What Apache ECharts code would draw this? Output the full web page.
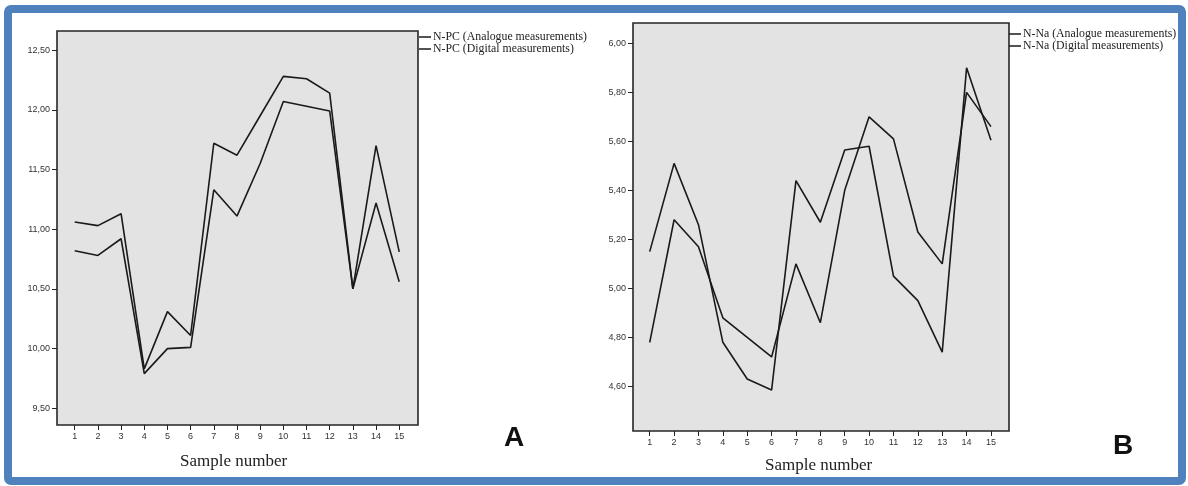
<!DOCTYPE html>
<html>
<head>
<meta charset="utf-8">
<script src="https://cdn.jsdelivr.net/npm/echarts@6/dist/echarts.min.js"></script>
<style>
  html, body { margin: 0; padding: 0; background: #ffffff; }
  #chart { width: 1188px; height: 486px; }
</style>
</head>
<body>
<div id="chart"></div>
<script>
// Sample numbers on the x axis
const sampleNumbers = [1, 2, 3, 4, 5, 6, 7, 8, 9, 10, 11, 12, 13, 14, 15];

// Panel A: N-PC
const npcAnalogue = [11.06, 11.03, 11.13, 9.83, 10.31, 10.11, 11.72, 11.62, 11.95, 12.28, 12.26, 12.14, 10.50, 11.70, 10.81];
const npcDigital  = [10.82, 10.78, 10.92, 9.79, 10.00, 10.01, 11.33, 11.11, 11.55, 12.07, 12.03, 11.99, 10.50, 11.22, 10.56];
const npcTicks = [9.5, 10.0, 10.5, 11.0, 11.5, 12.0, 12.5];

// Panel B: N-Na
const nnaAnalogue = [5.15, 5.51, 5.26, 4.78, 4.63, 4.585, 5.44, 5.27, 5.565, 5.58, 5.05, 4.95, 4.74, 5.90, 5.605];
const nnaDigital  = [4.78, 5.28, 5.17, 4.88, 4.80, 4.72, 5.10, 4.86, 5.40, 5.70, 5.61, 5.23, 5.10, 5.80, 5.66];
const nnaTicks = [4.6, 4.8, 5.0, 5.2, 5.4, 5.6, 5.8, 6.0];

const names = {
  npcA: 'N-PC (Analogue measurements)',
  npcD: 'N-PC (Digital measurements)',
  nnaA: 'N-Na (Analogue measurements)',
  nnaD: 'N-Na (Digital measurements)'
};

const pairs = vals => vals.map((v, i) => [sampleNumbers[i], v]);
const commaFmt = v => Number(v).toFixed(2).replace('.', ',');

const tickFont = { fontFamily: 'Liberation Sans, Arial, sans-serif', fontSize: 9, color: '#333' };

function xAxisFor(gridIndex, min, max) {
  return {
    type: 'value', gridIndex, min, max,
    axisLine: { show: false, onZero: false },
    splitLine: { show: false },
    axisTick: { show: true, length: 5, lineStyle: { color: '#222', width: 1 }, customValues: sampleNumbers },
    axisLabel: Object.assign({ margin: 7, customValues: sampleNumbers, formatter: v => String(v) }, tickFont)
  };
}
function yAxisFor(gridIndex, min, max, ticks) {
  return {
    type: 'value', gridIndex, min, max,
    axisLine: { show: false, onZero: false },
    splitLine: { show: false },
    axisTick: { show: true, length: 5, lineStyle: { color: '#222', width: 1 }, customValues: ticks },
    axisLabel: Object.assign({ margin: 7, customValues: ticks, formatter: commaFmt }, tickFont)
  };
}
function lineSeries(name, idx, vals) {
  return {
    name, type: 'line', xAxisIndex: idx, yAxisIndex: idx,
    data: pairs(vals), showSymbol: false, symbol: 'none', smooth: false,
    lineStyle: { color: '#1a1a1a', width: 1.6 }, itemStyle: { color: '#1a1a1a' },
    animation: false
  };
}

const gridStyle = { show: true, backgroundColor: '#e3e3e3', borderColor: '#262626', borderWidth: 1.6, containLabel: false };

const legendStyle = {
  orient: 'vertical', selectedMode: false, icon: 'rect', itemWidth: 12, itemHeight: 1.5, itemGap: 0,
  textStyle: { fontFamily: 'Liberation Serif, Times New Roman, serif', fontSize: 11.8, lineHeight: 11, height: 11, color: '#222', padding: [0, 0, 0, -3] },
  padding: 0
};

const option = {
  animation: false,
  backgroundColor: '#ffffff',
  grid: [
    Object.assign({ left: 57, top: 31, width: 361, height: 394 }, gridStyle),
    Object.assign({ left: 633, top: 23, width: 376, height: 408 }, gridStyle)
  ],
  xAxis: [xAxisFor(0, 0.235, 15.81), xAxisFor(1, 0.314, 15.74)],
  yAxis: [yAxisFor(0, 9.36, 12.66, npcTicks), yAxisFor(1, 4.418, 6.083, nnaTicks)],
  legend: [
    Object.assign({ left: 419, top: 31, data: [names.npcA, names.npcD] }, legendStyle),
    Object.assign({ left: 1009, top: 28, data: [names.nnaA, names.nnaD] }, legendStyle)
  ],
  series: [
    lineSeries(names.npcA, 0, npcAnalogue),
    lineSeries(names.npcD, 0, npcDigital),
    lineSeries(names.nnaA, 1, nnaAnalogue),
    lineSeries(names.nnaD, 1, nnaDigital)
  ],
  graphic: [
    { type: 'rect', silent: true, z: 100,
      shape: { x: 8, y: 9, width: 1174, height: 472, r: 3 },
      style: { fill: null, stroke: '#4f81bd', lineWidth: 8 } },
    { type: 'text', silent: true, left: 180, top: 453,
      style: { text: 'Sample number', font: '17px "Liberation Serif", serif', fill: '#222' } },
    { type: 'text', silent: true, left: 765, top: 457,
      style: { text: 'Sample number', font: '17px "Liberation Serif", serif', fill: '#222' } },
    { type: 'text', silent: true, left: 504, top: 424,
      style: { text: 'A', font: 'bold 28px "Liberation Sans", Arial, sans-serif', fill: '#111' } },
    { type: 'text', silent: true, left: 1113, top: 432,
      style: { text: 'B', font: 'bold 28px "Liberation Sans", Arial, sans-serif', fill: '#111' } }
  ]
};

const chart = echarts.init(document.getElementById('chart'), null, { renderer: 'canvas' });
chart.setOption(option);
</script>
</body>
</html>
